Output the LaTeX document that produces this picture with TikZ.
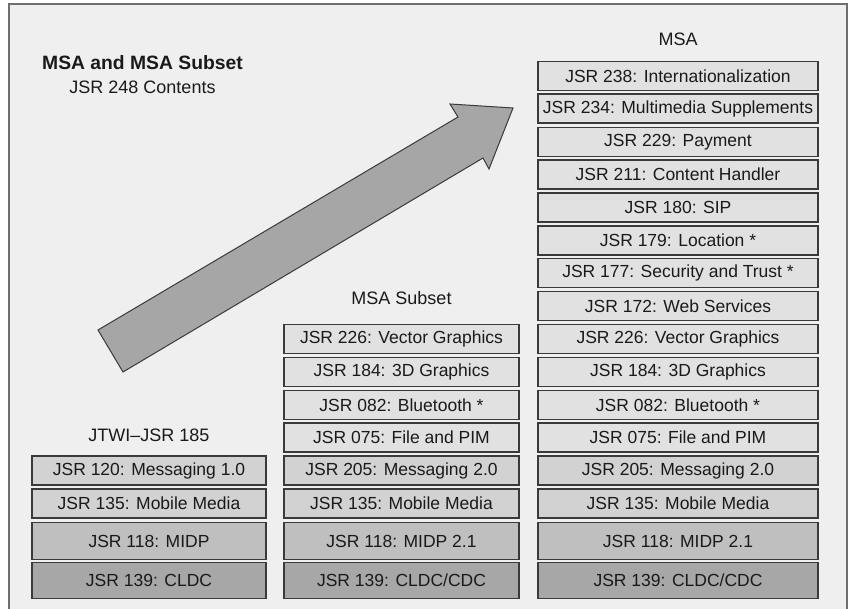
\documentclass[tikz,border=0pt]{standalone}
\usepackage{fontspec}
\setmainfont{Liberation Sans}
\definecolor{bg}{HTML}{EFEFEF}
\definecolor{framec}{HTML}{6E6E6E}
\definecolor{boxline}{HTML}{3A3A3A}
\definecolor{txt}{HTML}{1A1A1A}
\definecolor{flight}{HTML}{E1E1E1}
\definecolor{fmid}{HTML}{D2D2D2}
\definecolor{fmidp}{HTML}{BFBFBF}
\definecolor{fcldc}{HTML}{A7A7A7}
\definecolor{arrowfill}{HTML}{A6A6A6}
\begin{document}
\begin{tikzpicture}[x=1pt,y=-1pt,
  box/.style={draw=boxline, line width=1.1pt, inner sep=0pt, outer sep=0pt,
    font=\fontsize{17.5}{20}\selectfont, text=txt, minimum height=29pt},
  tall/.style={minimum height=36.5pt},
  wR/.style={minimum width=280pt},
  wM/.style={minimum width=235pt},
  wL/.style={minimum width=234pt},
  lt/.style={fill=flight},
  md/.style={fill=fmid},
  mp/.style={fill=fmidp},
  cl/.style={fill=fcldc},
  lbl/.style={font=\fontsize{18}{21}\selectfont, text=txt, inner sep=0pt},
  ttl/.style={font=\fontsize{19.3}{22}\selectfont\bfseries, text=txt, inner sep=0pt}]
\useasboundingbox (0,0) rectangle (850,609);
\fill[white] (0,0) rectangle (850,609);
\draw[draw=framec, line width=2pt, fill=bg] (9,4) rectangle (847,616);

% titles
\node[ttl] (title) at (142.5,63) {MSA and MSA Subset};
\node[lbl] (subtitle) at (142.5,87.5) {JSR 248 Contents};

% arrow
\draw[fill=arrowfill, draw=boxline, line width=1pt, line join=miter]
  (98,330) -- (458,117) -- (450,104) -- (513,108) -- (489,169) -- (483,158) -- (123,372) -- cycle;

% MSA column
\node[lbl] (msa) at (678,39) {MSA};
\node[box,wR,lt] (r1) at (678,76) {JSR 238: Internationalization};
\node[box,wR,lt] (r2) at (678,108.5) {JSR 234: Multimedia Supplements};
\node[box,wR,lt] (r3) at (678,142) {JSR 229: Payment};
\node[box,wR,lt] (r4) at (678,174.5) {JSR 211: Content Handler};
\node[box,wR,lt] (r5) at (678,207.5) {JSR 180: SIP};
\node[box,wR,lt] (r6) at (678,240.5) {JSR 179: Location *};
\node[box,wR,lt] (r7) at (678,273) {JSR 177: Security and Trust *};
\node[box,wR,lt] (r8) at (678,306) {JSR 172: Web Services};
\node[box,wR,lt] (r9) at (678,339) {JSR 226: Vector Graphics};
\node[box,wR,lt] (r10) at (678,372) {JSR 184: 3D Graphics};
\node[box,wR,lt] (r11) at (678,405) {JSR 082: Bluetooth *};
\node[box,wR,lt] (r12) at (678,437.5) {JSR 075: File and PIM};
\node[box,wR,md] (r13) at (678,470.5) {JSR 205: Messaging 2.0};
\node[box,wR,md] (r14) at (678,503.5) {JSR 135: Mobile Media};
\node[box,wR,mp,tall] (r15) at (678,541) {JSR 118: MIDP 2.1};
\node[box,wR,cl,tall] (r16) at (678,580.5) {JSR 139: CLDC/CDC};

% MSA Subset column
\node[lbl] (sub) at (401.5,298) {MSA Subset};
\node[box,wM,lt] (m9) at (401.5,339) {JSR 226: Vector Graphics};
\node[box,wM,lt] (m10) at (401.5,372) {JSR 184: 3D Graphics};
\node[box,wM,lt] (m11) at (401.5,405) {JSR 082: Bluetooth *};
\node[box,wM,lt] (m12) at (401.5,437.5) {JSR 075: File and PIM};
\node[box,wM,md] (m13) at (401.5,470.5) {JSR 205: Messaging 2.0};
\node[box,wM,md] (m14) at (401.5,503.5) {JSR 135: Mobile Media};
\node[box,wM,mp,tall] (m15) at (401.5,541) {JSR 118: MIDP 2.1};
\node[box,wM,cl,tall] (m16) at (401.5,580.5) {JSR 139: CLDC/CDC};

% JTWI column
\node[lbl] (jtwi) at (149,435) {JTWI–JSR 185};
\node[box,wL,md] (l13) at (149,470.5) {JSR 120: Messaging 1.0};
\node[box,wL,md] (l14) at (149,503.5) {JSR 135: Mobile Media};
\node[box,wL,mp,tall] (l15) at (149,541) {JSR 118: MIDP};
\node[box,wL,cl,tall] (l16) at (149,580.5) {JSR 139: CLDC};
\end{tikzpicture}
\end{document}
